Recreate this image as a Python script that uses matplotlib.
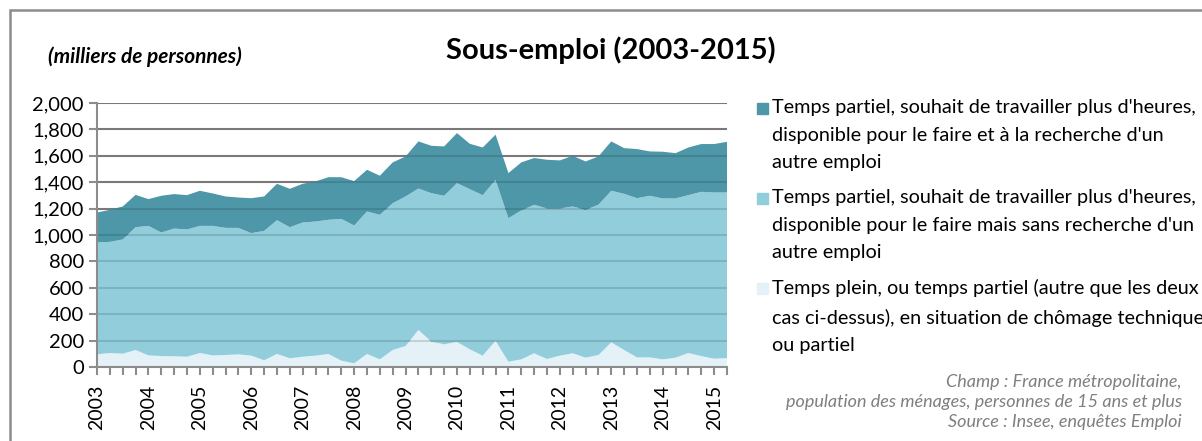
import numpy as np
import matplotlib.pyplot as plt
from matplotlib.patches import Rectangle

plt.rcParams['font.family'] = ['Lato', 'DejaVu Sans']

# quarterly data, 2003T1 -> 2015T2 (milliers de personnes)
years = list(range(2003, 2016))
chomage_technique = [96, 106, 101, 129, 88, 83, 81, 78, 106, 88, 91, 96, 86, 51, 99, 66,
                     78, 86, 99, 48, 28, 99, 58, 129, 159, 281, 192, 172, 190, 134, 86, 199,
                     40, 58, 104, 61, 86, 104, 71, 91, 187, 129, 73, 73, 58, 71, 106, 83,
                     63, 68]
cumul_sans_recherche = [943, 948, 966, 1059, 1069, 1019, 1049, 1042, 1069, 1069, 1054, 1054,
                        1014, 1031, 1112, 1059, 1095, 1102, 1115, 1122, 1072, 1178, 1153, 1241,
                        1292, 1352, 1317, 1297, 1393, 1347, 1302, 1418, 1127, 1186, 1229, 1201,
                        1201, 1216, 1191, 1229, 1335, 1312, 1279, 1297, 1277, 1277, 1302, 1327,
                        1322, 1322]
total = [1170, 1191, 1216, 1304, 1272, 1297, 1310, 1302, 1335, 1315, 1292, 1284, 1279, 1292,
         1388, 1350, 1388, 1406, 1438, 1438, 1408, 1494, 1449, 1550, 1595, 1709, 1676, 1671,
         1772, 1691, 1663, 1760, 1469, 1550, 1583, 1570, 1565, 1600, 1557, 1595, 1709, 1658,
         1651, 1633, 1631, 1620, 1663, 1689, 1689, 1706]

bottom = np.array(chomage_technique)
middle = np.array(cumul_sans_recherche) - bottom
top = np.array(total) - np.array(cumul_sans_recherche)
x = np.arange(len(total))

labels = [
    "Temps partiel, souhait de travailler plus d'heures,\ndisponible pour le faire et à la recherche d'un\nautre emploi",
    "Temps partiel, souhait de travailler plus d'heures,\ndisponible pour le faire mais sans recherche d'un\nautre emploi",
    "Temps plein, ou temps partiel (autre que les deux\ncas ci-dessus), en situation de chômage technique\nou partiel",
]
colors = ['#4e97a8', '#92cddc', '#e4f1f7']

fig = plt.figure(figsize=(12.02, 4.41), dpi=100)
ax = fig.add_axes([97 / 1202, 74 / 441, 630 / 1202, 264 / 441])

ax.stackplot(x, bottom, middle, top, colors=colors[::-1], linewidth=0, zorder=2)

ax.set_xlim(0, len(total) - 1)
ax.set_ylim(0, 2000)
ax.set_yticks(np.arange(0, 2001, 200))
ax.set_yticklabels([f"{v:,}" for v in range(0, 2001, 200)], fontsize=14.5)
ax.set_xticks(x, minor=True)
ax.set_xticks(x[::4])
ax.set_xticklabels([str(y) for y in years], rotation=90, fontsize=14)

# grid: gray behind, darker shade through the areas
for v in range(200, 2001, 200):
    ax.axhline(v, color='#8c8c8c', lw=1.5, zorder=1)
    ax.axhline(v, color='black', lw=1.5, alpha=0.13, zorder=3)

for s in ['top', 'right']:
    ax.spines[s].set_visible(False)
for s in ['left', 'bottom']:
    ax.spines[s].set_color('#8c8c8c')
    ax.spines[s].set_linewidth(1.5)
    ax.spines[s].set_zorder(4)
ax.tick_params(axis='both', which='both', color='#8c8c8c', width=1.5, length=6)
ax.tick_params(axis='x', pad=7)

# titles
fig.text(611 / 1202, 1 - 50 / 441, "Sous-emploi (2003-2015)", ha='center', va='center',
         fontsize=21, fontweight='bold')
fig.text(48 / 1202, 1 - 57 / 441, "(milliers de personnes)", ha='left', va='center',
         fontsize=15, fontweight='bold', fontstyle='italic')

# legend
for i, (lab, c) in enumerate(zip(labels, colors)):
    ytop = 1 - (103 + i * 90) / 441
    fig.patches.append(Rectangle((757 / 1202, ytop - 11 / 441), 11 / 1202, 11 / 441,
                                 transform=fig.transFigure, color=c))
    fig.text(772 / 1202, ytop + 4 / 441, lab, ha='left', va='top', fontsize=14.3,
             linespacing=1.76)

# source notes
fig.text(1182 / 1202, 1 - 374 / 441,
         "Champ : France métropolitaine,\npopulation des ménages, personnes de 15 ans et plus\nSource : Insee, enquêtes Emploi",
         ha='right', va='top', fontsize=13, fontstyle='italic', color='#7f7f7f',
         linespacing=1.32)

# chart frame
fig.patches.append(Rectangle((10 / 1202, -0.1), 1.2, 1 - 10 / 441 + 0.1,
                             transform=fig.transFigure, fill=False,
                             edgecolor='#8c8c8c', lw=1.8))

fig.savefig("out.png", dpi=100)
